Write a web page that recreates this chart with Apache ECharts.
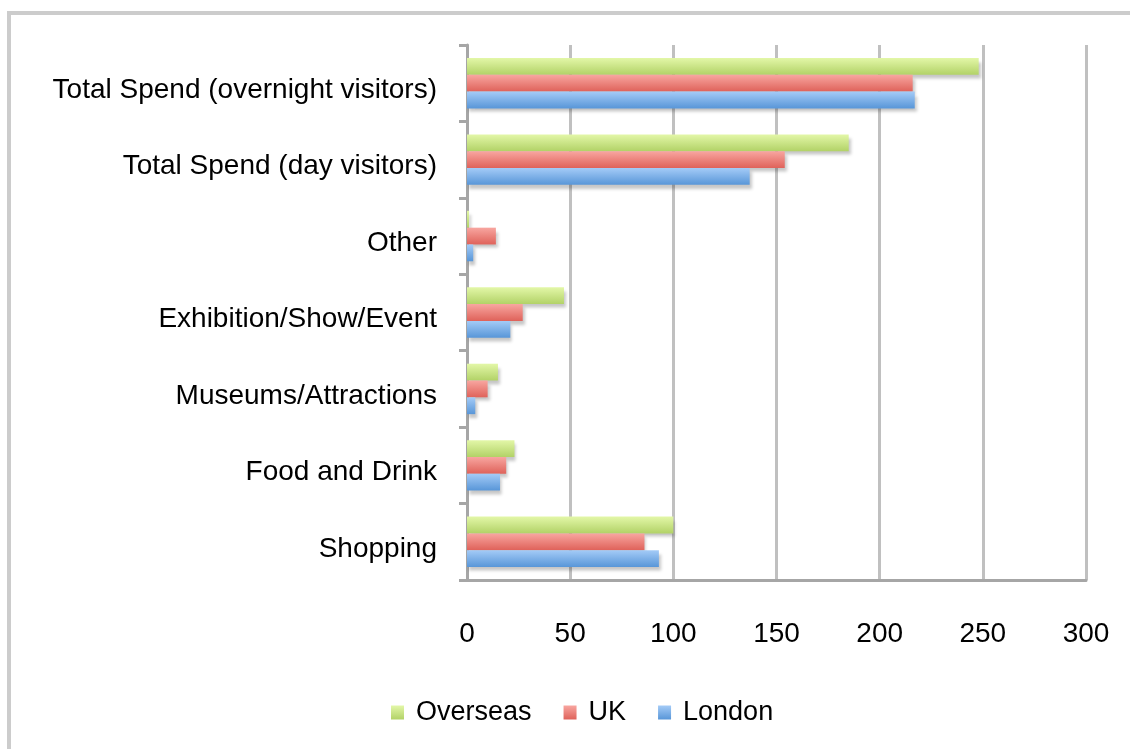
<!DOCTYPE html>
<html>
<head>
<meta charset="utf-8">
<script src="https://cdn.jsdelivr.net/npm/echarts@6/dist/echarts.min.js"></script>
<style>
html,body{margin:0;padding:0;background:#fff;}
#chart{width:1130px;height:749px;}
</style>
</head>
<body>
<div id="chart"></div>
<script>
const categories = ["Shopping", "Food and Drink", "Museums/Attractions", "Exhibition/Show/Event", "Other", "Total Spend (day visitors)", "Total Spend (overnight visitors)"];
const london = [93, 16, 4, 21, 3, 137, 217];
const uk = [86, 19, 10, 27, 14, 154, 216];
const overseas = [100, 23, 15, 47, 1, 185, 248];
const xTicks = [0, 50, 100, 150, 200, 250, 300];

function grad(top, bottom) {
  return new echarts.graphic.LinearGradient(0, 0, 0, 1, [
    {offset: 0, color: top}, {offset: 1, color: bottom}
  ]);
}
const shadow = {shadowColor: 'rgba(0,0,0,0.22)', shadowBlur: 3, shadowOffsetX: 2, shadowOffsetY: 4};
const font = 'Liberation Sans';

const chart = echarts.init(document.getElementById('chart'));
chart.setOption({
  animation: false,
  textStyle: {fontFamily: font},
  graphic: [{
    type: 'rect', shape: {x: 9, y: 13, width: 1200, height: 800},
    style: {fill: 'none', stroke: '#cccccc', lineWidth: 4}, silent: true
  }],
  grid: {left: 467, right: 44, top: 45, bottom: 169, containLabel: false},
  legend: {
    bottom: 18, left: 386,
    data: ['Overseas', 'UK', 'London'],
    icon: 'rect',
    itemWidth: 13, itemHeight: 14, itemGap: 32,
    textStyle: {fontSize: 27, color: '#000', fontFamily: font, padding: [0, 0, 0, 7]}
  },
  xAxis: {
    type: 'value', min: xTicks[0], max: xTicks[xTicks.length - 1], interval: 50,
    axisLine: {show: true, lineStyle: {color: '#a6a6a6', width: 3}},
    axisTick: {show: false},
    axisLabel: {fontSize: 28, color: '#000', margin: 40},
    splitLine: {show: true, lineStyle: {color: '#c0c0c0', width: 3}}
  },
  yAxis: {
    type: 'category', data: categories,
    axisLine: {show: true, lineStyle: {color: '#a6a6a6', width: 3}},
    axisTick: {show: true, length: 8, lineStyle: {color: '#a6a6a6', width: 3}},
    axisLabel: {
      color: '#000', margin: 30,
      formatter: function (v) { return '{a|' + v + '}'; },
      rich: {a: {fontSize: 28, color: '#000', fontFamily: font, padding: [14, 0, 0, 0]}}
    }
  },
  series: [
    {name: 'Overseas', type: 'bar', data: overseas, barCategoryGap: '34%', barGap: '0%',
     itemStyle: Object.assign({color: grad('#e3f7a8', '#b2d267')}, shadow)},
    {name: 'UK', type: 'bar', data: uk, barGap: '0%',
     itemStyle: Object.assign({color: grad('#f8a6a0', '#df625a')}, shadow)},
    {name: 'London', type: 'bar', data: london, barGap: '0%',
     itemStyle: Object.assign({color: grad('#a4cbf7', '#5896d8')}, shadow)}
  ]
});
</script>
</body>
</html>
